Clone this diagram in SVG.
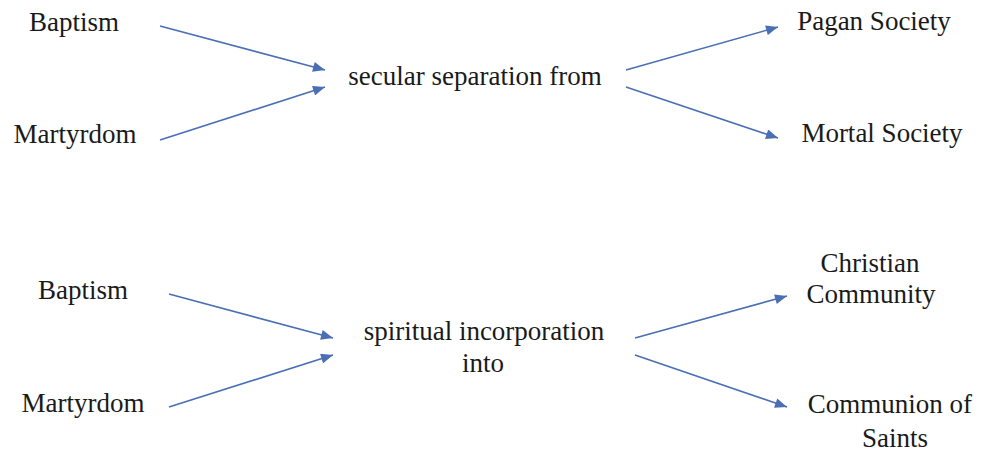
<svg xmlns="http://www.w3.org/2000/svg" width="984" height="452" viewBox="0 0 984 452">
<style>
.c line{stroke:#4a6fb5;stroke-width:1.6;fill:none}
</style>
<defs>
<marker id="ah" viewBox="0 0 12 10" refX="12" refY="5" markerWidth="13" markerHeight="10" markerUnits="userSpaceOnUse" orient="auto">
<path d="M0,0 L12,5 L0,10 Z" fill="#4a6fb5"/>
</marker>
</defs>
<rect width="984" height="452" fill="#fff"/>
<g id="n-baptism1"><text font-family="Liberation Serif" font-size="27" fill="#1a1a1a" text-anchor="middle" x="74" y="31">Baptism</text></g>
<g id="n-martyrdom1"><text font-family="Liberation Serif" font-size="27" fill="#1a1a1a" text-anchor="middle" x="75" y="143">Martyrdom</text></g>
<g id="n-secular"><text font-family="Liberation Serif" font-size="27" fill="#1a1a1a" text-anchor="middle" x="475" y="85">secular separation from</text></g>
<g id="n-pagan"><text font-family="Liberation Serif" font-size="27" fill="#1a1a1a" text-anchor="middle" x="874" y="30">Pagan Society</text></g>
<g id="n-mortal"><text font-family="Liberation Serif" font-size="27" fill="#1a1a1a" text-anchor="middle" x="882" y="142">Mortal Society</text></g>
<g id="n-baptism2"><text font-family="Liberation Serif" font-size="27" fill="#1a1a1a" text-anchor="middle" x="83" y="299">Baptism</text></g>
<g id="n-martyrdom2"><text font-family="Liberation Serif" font-size="27" fill="#1a1a1a" text-anchor="middle" x="83" y="412">Martyrdom</text></g>
<g id="n-spiritual"><text font-family="Liberation Serif" font-size="27" fill="#1a1a1a" text-anchor="middle" x="484" y="340">spiritual incorporation</text><text font-family="Liberation Serif" font-size="27" fill="#1a1a1a" text-anchor="middle" x="483" y="372">into</text></g>
<g id="n-christian"><text font-family="Liberation Serif" font-size="27" fill="#1a1a1a" text-anchor="middle" x="870" y="272">Christian</text><text font-family="Liberation Serif" font-size="27" fill="#1a1a1a" text-anchor="middle" x="871" y="303">Community</text></g>
<g id="n-communion"><text font-family="Liberation Serif" font-size="27" fill="#1a1a1a" text-anchor="middle" x="890" y="413">Communion of</text><text font-family="Liberation Serif" font-size="27" fill="#1a1a1a" text-anchor="middle" x="895" y="447">Saints</text></g>
<g class="c" id="connectors">
<line x1="160" y1="26" x2="325" y2="70" marker-end="url(#ah)"/>
<line x1="160" y1="140" x2="325" y2="87" marker-end="url(#ah)"/>
<line x1="626" y1="70" x2="778" y2="27" marker-end="url(#ah)"/>
<line x1="626" y1="87" x2="778" y2="138" marker-end="url(#ah)"/>
<line x1="169" y1="294" x2="333" y2="338" marker-end="url(#ah)"/>
<line x1="169" y1="407" x2="333" y2="355" marker-end="url(#ah)"/>
<line x1="635" y1="338" x2="787" y2="296" marker-end="url(#ah)"/>
<line x1="635" y1="355" x2="787" y2="407" marker-end="url(#ah)"/>
</g>
</svg>
